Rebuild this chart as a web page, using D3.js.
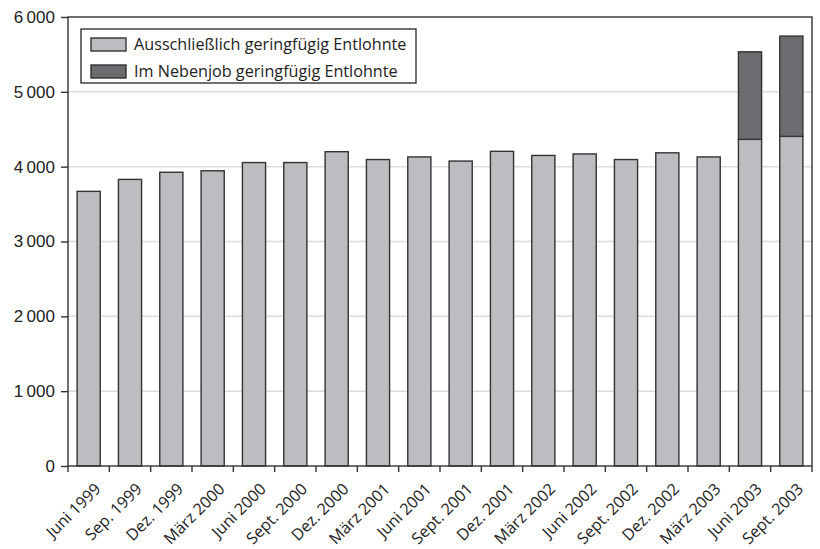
<!DOCTYPE html>
<html>
<head>
<meta charset="utf-8">
<script src="https://cdn.jsdelivr.net/npm/d3@7"></script>
<style>
  html, body { margin: 0; padding: 0; background: #fff; }
  svg { display: block; font-family: "Open Sans", "Noto Sans", sans-serif; }
</style>
</head>
<body>
<svg id="chart" width="820" height="549"></svg>
<script>
// Quarterly counts (in thousands) of marginally employed persons
const categories = [
  "Juni 1999", "Sep. 1999", "Dez. 1999", "März 2000", "Juni 2000", "Sept. 2000",
  "Dez. 2000", "März 2001", "Juni 2001", "Sept. 2001", "Dez. 2001", "März 2002",
  "Juni 2002", "Sept. 2002", "Dez. 2002", "März 2003", "Juni 2003", "Sept. 2003"
];
const ausschliesslich = [
  3670, 3830, 3925, 3945, 4055, 4055, 4200, 4095, 4130, 4075, 4205, 4150,
  4170, 4095, 4185, 4130, 4365, 4405
];
const nebenjob = [
  0, 0, 0, 0, 0, 0, 0, 0, 0, 0, 0, 0, 0, 0, 0, 0, 1170, 1340
];
const seriesNames = ["Ausschließlich geringfügig Entlohnte", "Im Nebenjob geringfügig Entlohnte"];
const yTicks = [0, 1000, 2000, 3000, 4000, 5000, 6000];

const colors = ["#bcbdc1", "#6b6c70"];
const ink = "#333";

const svg = d3.select("#chart");
const margin = { top: 17, right: 8, bottom: 83, left: 68 };
const W = 820 - margin.left - margin.right;
const H = 549 - margin.top - margin.bottom;

const g = svg.append("g").attr("transform", `translate(${margin.left},${margin.top})`);

const x = d3.scaleBand().domain(categories).range([0, W]).padding(0);
const y = d3.scaleLinear().domain([0, 6000]).range([H, 0]);

// Horizontal gridlines
g.append("g")
  .selectAll("line")
  .data(yTicks.filter(t => t > 0 && t < 6000))
  .join("line")
  .attr("x1", 0).attr("x2", W)
  .attr("y1", d => y(d)).attr("y2", d => y(d))
  .attr("stroke", "#dcdcdc").attr("stroke-width", 1.5);

// Stacked bars
const rows = categories.map((c, i) => ({ cat: c, a: ausschliesslich[i], b: nebenjob[i] }));
const stack = d3.stack().keys(["a", "b"])(rows);
const barW = x.bandwidth() * 0.56;
const barOff = (x.bandwidth() - barW) / 2;

stack.forEach((layer, li) => {
  g.append("g")
    .selectAll("rect")
    .data(layer.filter(d => d[1] - d[0] > 0))
    .join("rect")
    .attr("x", d => x(d.data.cat) + barOff)
    .attr("width", barW)
    .attr("y", d => y(d[1]))
    .attr("height", d => y(d[0]) - y(d[1]))
    .attr("fill", colors[li])
    .attr("stroke", ink)
    .attr("stroke-width", 1.4);
});

// Frame
g.append("rect")
  .attr("x", 0).attr("y", 0).attr("width", W).attr("height", H)
  .attr("fill", "none").attr("stroke", ink).attr("stroke-width", 1.4);

// Y axis
const fmt = v => d3.format(",")(v).replace(/,/g, "\u2009");
const yAxis = g.append("g")
  .call(d3.axisLeft(y).tickValues(yTicks).tickFormat(fmt).tickSize(7).tickPadding(6));
yAxis.select(".domain").remove();
yAxis.selectAll("line").attr("stroke", ink).attr("stroke-width", 1.4);
yAxis.selectAll("text").attr("fill", "#222").style("font-size", "17px");

// X axis: ticks between bars, labels rotated
const xAxisG = g.append("g").attr("transform", `translate(0,${H})`);
xAxisG.append("g")
  .selectAll("line")
  .data(categories.map((c, i) => i).concat([categories.length]))
  .join("line")
  .attr("x1", i => i * x.step()).attr("x2", i => i * x.step())
  .attr("y1", 0).attr("y2", 6)
  .attr("stroke", ink).attr("stroke-width", 1.4);

xAxisG.append("g")
  .selectAll("text")
  .data(categories)
  .join("text")
  .attr("text-anchor", "end")
  .attr("transform", d => `translate(${x(d) + x.bandwidth() / 2 + 13},${24}) rotate(-45)`)
  .attr("fill", "#222")
  .style("font-size", "16px")
  .text(d => d);

// Legend
const legend = g.append("g").attr("transform", "translate(13,12)");
legend.append("rect")
  .attr("width", 335).attr("height", 54)
  .attr("fill", "#fff").attr("stroke", ink).attr("stroke-width", 1.4);
seriesNames.forEach((name, i) => {
  const row = legend.append("g").attr("transform", `translate(10,${9 + i * 27})`);
  row.append("rect")
    .attr("width", 35).attr("height", 13)
    .attr("fill", colors[i]).attr("stroke", ink).attr("stroke-width", 1.4);
  row.append("text")
    .attr("x", 43).attr("y", 12)
    .attr("fill", "#222")
    .style("font-size", "16.2px")
    .text(name);
});
</script>
</body>
</html>
